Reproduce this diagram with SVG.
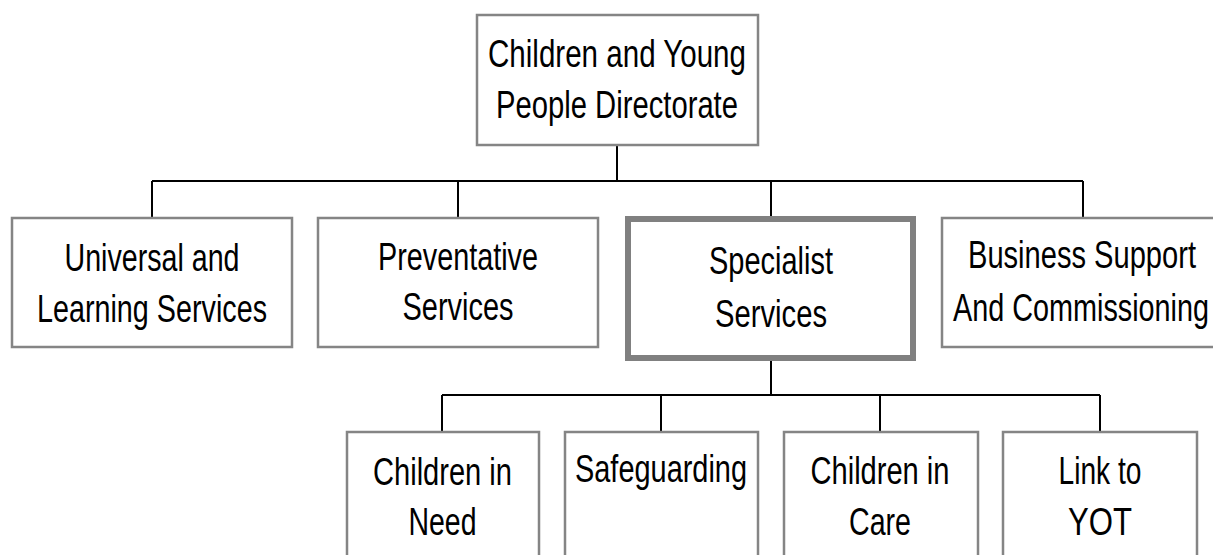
<svg xmlns="http://www.w3.org/2000/svg" width="1213" height="555" viewBox="0 0 1213 555">
<style>
.box{fill:#fff;stroke:#858585;stroke-width:2.5}
.hl{fill:#fff;stroke:#808080;stroke-width:6}
.con{fill:none;stroke:#000;stroke-width:2}
text{font-family:"Liberation Sans",Arial,sans-serif;font-size:38px;fill:#000;text-anchor:middle}
</style>
<rect width="1213" height="555" fill="#fff"/>
<g id="connectors">
<path class="con" d="M617 145V181M152 181H1083M152 181V217M458 181V217M771 181V216M1083 181V217"/>
<path class="con" d="M771 361V395M442 395H1100M442 395V431M661 395V431M880 395V431M1100 395V431"/>
</g>
<g id="n-top">
<rect class="box" x="477" y="15" width="281" height="130"/>
<text x="617" y="67" textLength="258" lengthAdjust="spacingAndGlyphs">Children and Young</text>
<text x="617" y="118" textLength="242" lengthAdjust="spacingAndGlyphs">People Directorate</text>
</g>
<g id="n-universal">
<rect class="box" x="12" y="218" width="280" height="129"/>
<text x="152" y="271" textLength="175" lengthAdjust="spacingAndGlyphs">Universal and</text>
<text x="152" y="322" textLength="230" lengthAdjust="spacingAndGlyphs">Learning Services</text>
</g>
<g id="n-preventative">
<rect class="box" x="318" y="218" width="280" height="129"/>
<text x="458" y="270" textLength="160" lengthAdjust="spacingAndGlyphs">Preventative</text>
<text x="458" y="320" textLength="111" lengthAdjust="spacingAndGlyphs">Services</text>
</g>
<g id="n-specialist">
<rect class="hl" x="628" y="219" width="285" height="139"/>
<text x="771" y="274" textLength="124" lengthAdjust="spacingAndGlyphs">Specialist</text>
<text x="771" y="327" textLength="112" lengthAdjust="spacingAndGlyphs">Services</text>
</g>
<g id="n-business">
<rect class="box" x="942" y="218" width="282" height="129"/>
<text x="1082" y="268" textLength="228" lengthAdjust="spacingAndGlyphs">Business Support</text>
<text x="1081" y="321" textLength="256" lengthAdjust="spacingAndGlyphs">And Commissioning</text>
</g>
<g id="n-cin">
<rect class="box" x="347" y="432" width="192" height="140"/>
<text x="442.5" y="485" textLength="139" lengthAdjust="spacingAndGlyphs">Children in</text>
<text x="442.5" y="535" textLength="68" lengthAdjust="spacingAndGlyphs">Need</text>
</g>
<g id="n-safeguarding">
<rect class="box" x="565" y="432" width="193" height="140"/>
<text x="661" y="482" textLength="172" lengthAdjust="spacingAndGlyphs">Safeguarding</text>
</g>
<g id="n-care">
<rect class="box" x="784" y="432" width="194" height="140"/>
<text x="880" y="484" textLength="139" lengthAdjust="spacingAndGlyphs">Children in</text>
<text x="880" y="535" textLength="62" lengthAdjust="spacingAndGlyphs">Care</text>
</g>
<g id="n-yot">
<rect class="box" x="1003" y="432" width="194" height="140"/>
<text x="1100" y="484" textLength="83" lengthAdjust="spacingAndGlyphs">Link to</text>
<text x="1100" y="535" textLength="64" lengthAdjust="spacingAndGlyphs">YOT</text>
</g>
</svg>
